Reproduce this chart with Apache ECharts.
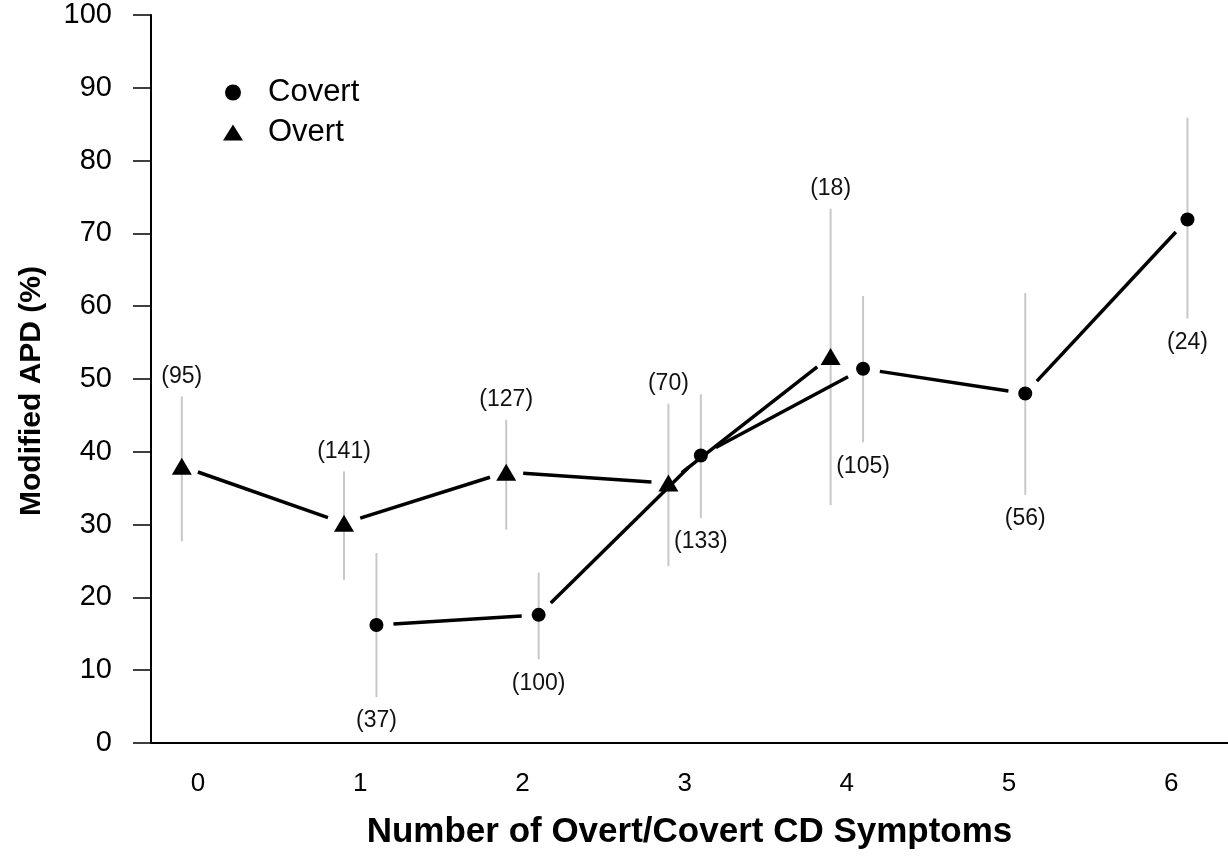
<!DOCTYPE html>
<html><head><meta charset="utf-8">
<script src="https://cdn.jsdelivr.net/npm/echarts@6/dist/echarts.min.js"></script>
<style>html,body{margin:0;padding:0;background:#fff}#c{width:1228px;height:858px}</style>
</head><body><div id="c"></div>
<script>
const xTicks = [0, 1, 2, 3, 4, 5, 6];
const overtX = [0, 1, 2, 3, 4];
const overtMean = [38.0, 30.2, 37.2, 35.7, 53.1];
const overtLow = [27.7, 22.4, 29.3, 24.3, 32.7];
const overtHigh = [47.6, 37.3, 44.4, 46.6, 73.4];
const overtN = [95, 141, 127, 70, 18];
const covertX = [1, 2, 3, 4, 5, 6];
const covertMean = [16.2, 17.6, 39.5, 51.4, 48.0, 71.9];
const covertLow = [6.3, 11.5, 30.9, 41.3, 34.1, 58.3];
const covertHigh = [26.1, 23.4, 47.9, 61.4, 61.8, 85.9];
const covertN = [37, 100, 133, 105, 56, 24];

const DODGE = 0.1;
const FONT = '"Liberation Sans", Arial, sans-serif';

function segData(xs, ys, d) {
  const out = [];
  for (let i = 1; i < xs.length; i++) out.push([xs[i-1] + d, ys[i-1], xs[i] + d, ys[i]]);
  return out;
}
function renderSeg(params, api) {
  const p0 = api.coord([api.value(0), api.value(1)]);
  const p1 = api.coord([api.value(2), api.value(3)]);
  const dx = p1[0] - p0[0], dy = p1[1] - p0[1];
  const L = Math.hypot(dx, dy), g = 17;
  if (L <= 2 * g) return null;
  const ux = dx / L, uy = dy / L;
  return {type: 'line',
    shape: {x1: p0[0] + ux * g, y1: p0[1] + uy * g, x2: p1[0] - ux * g, y2: p1[1] - uy * g},
    style: {stroke: '#000', lineWidth: 3.5}};
}
function errData(xs, lo, hi, n, d) {
  return xs.map((x, i) => [x + d, lo[i], hi[i], n[i]]);
}
function renderErr(above) {
  return function (params, api) {
    const x = api.value(0);
    const pl = api.coord([x, api.value(1)]);
    const ph = api.coord([x, api.value(2)]);
    const ty = above ? ph[1] - 20 : pl[1] + 24;
    return {type: 'group', children: [
      {type: 'line', shape: {x1: pl[0], y1: pl[1], x2: ph[0], y2: ph[1]},
        style: {stroke: '#c8c8c8', lineWidth: 2}},
      {type: 'text', x: pl[0], y: ty,
        style: {text: '(' + api.value(3) + ')', align: 'center', verticalAlign: 'middle',
          fill: '#111', font: '23px ' + FONT}}
    ]};
  };
}

const chart = echarts.init(document.getElementById('c'), null, {renderer: 'canvas'});
chart.setOption({
  animation: false,
  textStyle: {fontFamily: FONT},
  grid: {left: 151, right: 0, top: 15, bottom: 115},
  legend: {
    data: ['Covert', 'Overt'], orient: 'vertical', left: 218, top: 72,
    itemWidth: 20, itemHeight: 16, itemGap: 9,
    textStyle: {fontSize: 31, color: '#000', padding: [0, 0, 0, 20]}
  },
  xAxis: {
    type: 'value', min: -0.29, max: 6.35,
    name: 'Number of Overt/Covert CD Symptoms', nameLocation: 'middle', nameGap: 72,
    nameTextStyle: {fontSize: 35, fontWeight: 'bold', color: '#000'},
    axisLine: {onZero: false, lineStyle: {color: '#000', width: 2}},
    axisTick: {show: false},
    splitLine: {show: false},
    axisLabel: {customValues: xTicks, fontSize: 26, color: '#000', margin: 28}
  },
  yAxis: {
    type: 'value', min: 0, max: 100, interval: 10,
    name: 'Modified APD (%)', nameLocation: 'middle', nameGap: 104, nameRotate: 90,
    nameTextStyle: {fontSize: 30, fontWeight: 'bold', color: '#000', padding: [0, 24, 0, 0]},
    axisLine: {show: true, onZero: false, lineStyle: {color: '#000', width: 2}},
    axisTick: {show: true, length: 18, lineStyle: {color: '#000', width: 1.5}},
    splitLine: {show: false},
    axisLabel: {fontSize: 29, color: '#000', margin: 39, padding: [12, 0, 0, 0]}
  },
  series: [
    {type: 'custom', name: 'errOvert', renderItem: renderErr(true), silent: true, z: 1,
      encode: {x: 0, y: [1, 2]}, data: errData(overtX, overtLow, overtHigh, overtN, -DODGE)},
    {type: 'custom', name: 'errCovert', renderItem: renderErr(false), silent: true, z: 1,
      encode: {x: 0, y: [1, 2]}, data: errData(covertX, covertLow, covertHigh, covertN, DODGE)},
    {type: 'custom', name: 'lineOvert', renderItem: renderSeg, silent: true, z: 2,
      encode: {x: [0, 2], y: [1, 3]}, data: segData(overtX, overtMean, -DODGE)},
    {type: 'custom', name: 'lineCovert', renderItem: renderSeg, silent: true, z: 2,
      encode: {x: [0, 2], y: [1, 3]}, data: segData(covertX, covertMean, DODGE)},
    {type: 'scatter', name: 'Covert', symbol: 'circle', symbolSize: 14, z: 5,
      itemStyle: {color: '#000', opacity: 1},
      data: covertX.map((x, i) => [x + DODGE, covertMean[i]])},
    {type: 'scatter', name: 'Overt', symbol: 'triangle', symbolSize: [20, 17], z: 5,
      itemStyle: {color: '#000', opacity: 1},
      data: overtX.map((x, i) => [x - DODGE, overtMean[i]])}
  ]
});
</script>
</body></html>
